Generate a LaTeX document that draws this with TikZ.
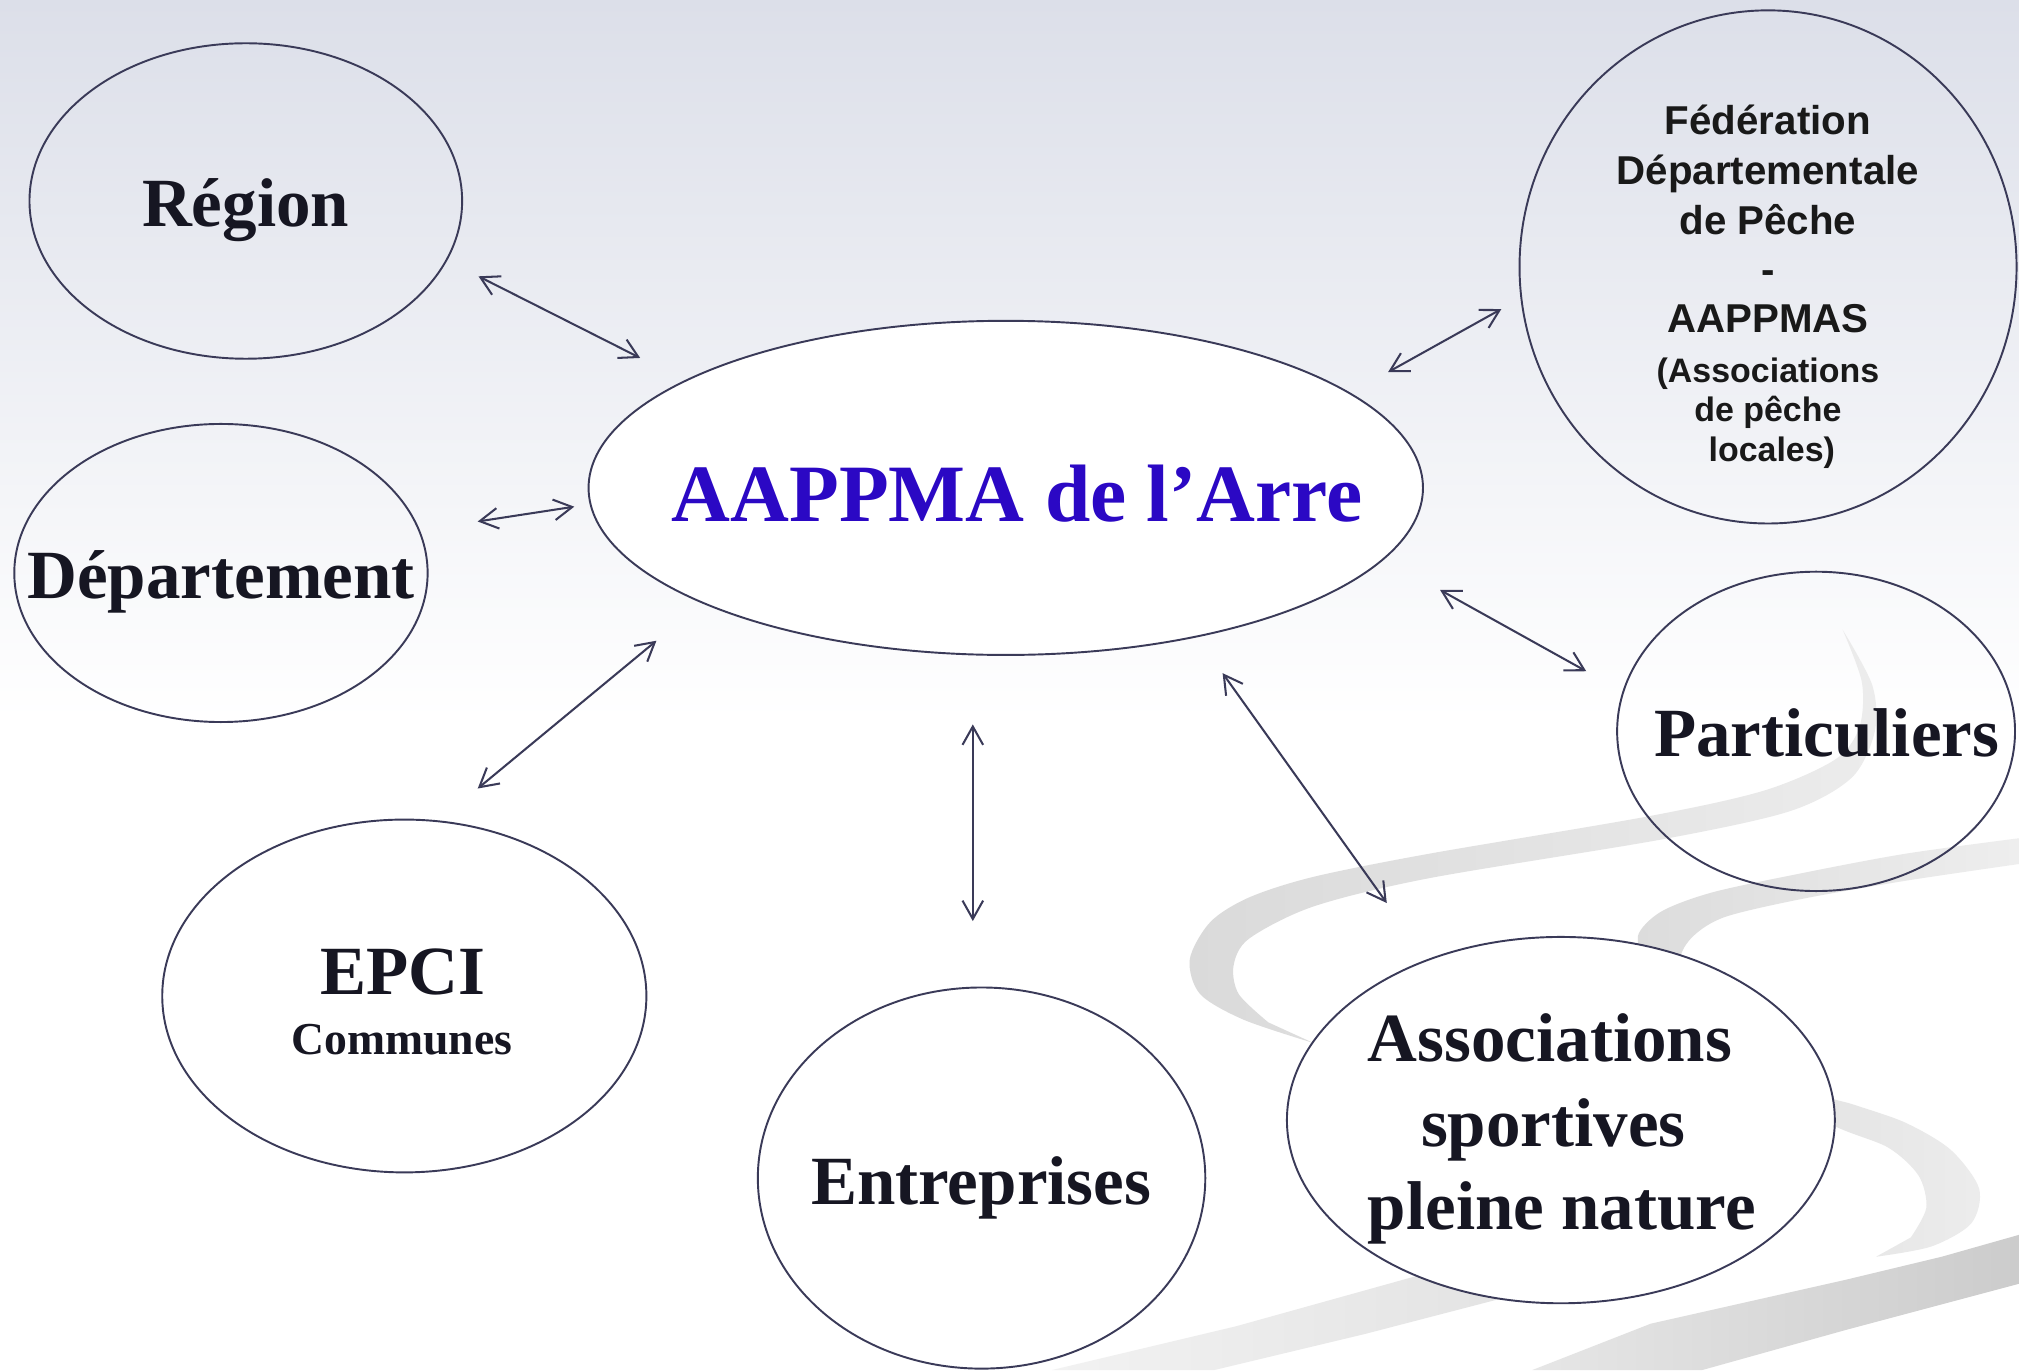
\documentclass[tikz,border=0pt]{standalone}
\usepackage{fontspec}
\setmainfont{Liberation Serif}
\newfontfamily\arialfont{Liberation Sans}
\usetikzlibrary{arrows.meta,shapes.geometric}
\definecolor{inkc}{RGB}{58,58,88}
\definecolor{txtc}{RGB}{22,22,34}
\definecolor{bluec}{RGB}{43,8,196}
\definecolor{bgtop}{RGB}{220,223,233}
\definecolor{bgmid}{RGB}{237,237,245}
\begin{document}
\begin{tikzpicture}[x=0.2mm,y=-0.2mm,
  ell/.style 2 args={ellipse,draw=inkc,line width=0.85pt,inner sep=0pt,minimum width=#1,minimum height=#2},
  tx/.style={anchor=base,inner sep=0pt,text=txtc,font=\fontsize{30.5}{36}\selectfont\bfseries},
  ftx/.style={anchor=base,inner sep=0pt,text=black!90,font=\arialfont\bfseries\fontsize{17.8}{21}\selectfont},
  fsm/.style={anchor=base,inner sep=0pt,text=black!90,font=\arialfont\bfseries\fontsize{15}{18}\selectfont},
  link/.style={draw=inkc,line width=0.9pt,{Straight Barb[length=2.85mm,width=3.2mm]}-{Straight Barb[length=2.85mm,width=3.2mm]}}]
\useasboundingbox (0,0) rectangle (1568,1064);
% background
\fill[white] (0,0) rectangle (1568,1064);
\shade[top color=bgtop,middle color=bgmid,bottom color=white] (0,0) rectangle (1568,560);
% swooshes
\shade[left color={rgb,255:red,218;green,218;blue,218},right color={rgb,255:red,236;green,236;blue,236}]
  plot[smooth] coordinates {(1431,489) (1446,530) (1444,565) (1425,590) (1370,614) (1280,634) (1110,663) (1020,681) (970,697) (940,716) (924,745) (932,772) (966,792) (1020,810)}
  -- plot[smooth] coordinates {(985,794) (962,772) (958,750) (970,729) (1020,704) (1110,682) (1290,652) (1390,630) (1438,604) (1456,568) (1454,532) (1431,489)} -- cycle;
\shade[left color={rgb,255:red,220;green,220;blue,220},right color={rgb,255:red,238;green,238;blue,238}]
  plot[smooth] coordinates {(1568,651) (1480,663) (1400,678) (1330,693) (1290,708) (1272,727) (1282,748) (1330,800) (1400,845) (1440,858) (1480,872) (1515,893) (1537,923) (1531,950) (1500,968) (1457,976)}
  -- plot[smooth] coordinates {(1484,961) (1496,938) (1490,913) (1466,891) (1420,872) (1360,830) (1315,770) (1305,745) (1315,727) (1340,712) (1400,698) (1480,684) (1568,671)} -- cycle;
\shade[left color={rgb,255:red,242;green,242;blue,242},right color={rgb,255:red,226;green,226;blue,226}]
  (817,1064) -- (960,1030) -- (1100,991) -- (1190,970) -- (1200,1000) -- (1160,1010) -- (1060,1036) -- (943,1064) -- cycle;
\shade[left color={rgb,255:red,230;green,230;blue,230},right color={rgb,255:red,204;green,204;blue,204}]
  (1190,1064) -- (1282,1028) -- (1433,994) -- (1508,976) -- (1568,959) -- (1568,997) -- (1433,1033) -- (1322,1064) -- cycle;
% ellipses
\node[ell={67.2mm}{49mm}] (reg) at (190.9,156.1) {};
\node[ell={64.2mm}{46.3mm}] (dep) at (171.6,445) {};
\node[ell={129.6mm}{51.9mm},fill=white] (aap) at (781.1,378.9) {};
\node[ell={77.2mm}{79.7mm}] (fed) at (1373.1,207.3) {};
\node[ell={61.8mm}{49.6mm}] (par) at (1410.4,568) {};
\node[ell={75.2mm}{54.8mm},fill=white] (epci) at (314,773.5) {};
\node[ell={69.5mm}{59.2mm},fill=white] (ent) at (762.3,914.9) {};
\node[ell={85.1mm}{56.9mm},fill=white] (asc) at (1212.2,869.9) {};
% texts
\node[tx] (regt) at (190.7,175.9) {Région};
\node[tx] (dept) at (171.6,464.7) {Département};
\node[tx,text=bluec,font=\fontsize{36}{40}\selectfont\bfseries] (aapt) at (789.9,405.1) {AAPPMA de l’Arre};
\node[ftx] (fed1) at (1373,104.8) {Fédération};
\node[ftx] (fed2) at (1373,143.1) {Départementale};
\node[ftx] (fed3) at (1373,181.9) {de Pêche};
\node[ftx] (fed4) at (1373,220.2) {-};
\node[ftx] (fed5) at (1373,258.6) {AAPPMAS};
\node[fsm] (fed6) at (1373,296.9) {(Associations};
\node[fsm] (fed7) at (1373,327.6) {de pêche};
\node[fsm] (fed8) at (1376,358.4) {locales)};
\node[tx] (part) at (1418.6,587.3) {Particuliers};
\node[tx] (epcit) at (312.6,772) {EPCI};
\node[tx,font=\fontsize{20.2}{24}\selectfont\bfseries] (comt) at (312.2,819.1) {Communes};
\node[tx] (entt) at (762,935.3) {Entreprises};
\node[tx] (asc1) at (1203.8,824.6) {Associations};
\node[tx] (asc2) at (1206.4,890.2) {sportives};
\node[tx] (asc3) at (1213,955) {pleine nature};
% connectors
\coordinate (a1s) at (371.6,214.6); \coordinate (a1e) at (497.2,278);
\coordinate (a2s) at (371,405);     \coordinate (a2e) at (446,393.5);
\coordinate (a3s) at (371,612.4);   \coordinate (a3e) at (509.8,497.6);
\coordinate (a4s) at (755.5,562.6); \coordinate (a4e) at (755.5,715.3);
\coordinate (a5s) at (949.5,522.8); \coordinate (a5e) at (1077,701.3);
\coordinate (a6s) at (1118.4,458.2);\coordinate (a6e) at (1231.9,521.3);
\coordinate (a7s) at (1078,289);    \coordinate (a7e) at (1166,240);
\draw[link] (a1s) -- (a1e);
\draw[link] (a2s) -- (a2e);
\draw[link] (a3s) -- (a3e);
\draw[link] (a4s) -- (a4e);
\draw[link] (a5s) -- (a5e);
\draw[link] (a6s) -- (a6e);
\draw[link] (a7s) -- (a7e);
\end{tikzpicture}
\end{document}
